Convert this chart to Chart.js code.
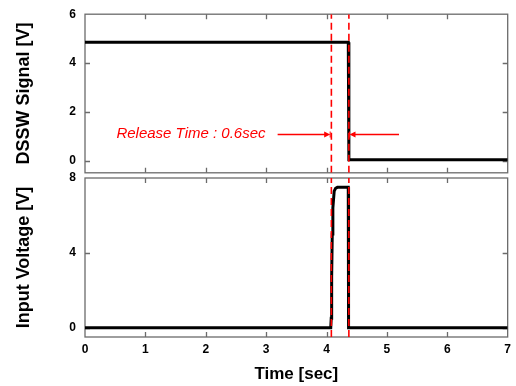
<!DOCTYPE html>
<html>
<head>
<meta charset="utf-8">
<script src="https://cdn.jsdelivr.net/npm/chart.js@4.4.1/dist/chart.umd.min.js"></script>
<style>
  body { margin: 0; background: #fff; }
  #wrap { position: relative; width: 516px; height: 386px; }
  #wrap div { position: absolute; left: 0; width: 516px; }
</style>
</head>
<body>
<div id="wrap">
  <!-- the y labels reserve 16.2px above/below the plot, hence the offset box -->
  <div style="top:-2px;height:191px"><canvas id="dssw"></canvas></div>
  <div style="top:160px;height:226px"><canvas id="input"></canvas></div>
</div>
<script>
// time axis [sec]
const timeTicks = [0, 1, 2, 3, 4, 5, 6, 7];

// DSSW signal [V]
const dsswTime = [0, 4.36, 4.37, 7];
const dsswVolt = [4.85, 4.85, 0.03, 0.03];
const dsswTicks = [0, 2, 4, 6];

// input voltage [V]
const inputTime = [0, 4.07, 4.078, 4.085, 4.095, 4.105, 4.127, 4.15, 4.18, 4.36, 4.365, 7];
const inputVolt = [0, 0, 0.5, 2.7, 5.0, 6.4, 7.3, 7.45, 7.5, 7.5, 0, 0];
const inputTicks = [0, 4, 8];

// red dashed markers + release note
const markerTimes = [4.08, 4.37];
const releaseText = 'Release Time : 0.6sec';
const releaseTextAt = [0.52, 0.94];
const releaseArrowY = 1.1;
const releaseArrows = [[3.19, 4.06], [5.2, 4.38]];

Chart.defaults.font.family = '"Liberation Sans", Arial, sans-serif';
Chart.defaults.color = '#000';

// box round the plot + inward ticks
const frameTicks = {
  id: 'frameTicks',
  beforeDatasetsDraw(chart) {
    const ctx = chart.ctx, a = chart.chartArea;
    const x = chart.scales.x, y = chart.scales.y;
    ctx.save();
    ctx.strokeStyle = '#6b6b6b';
    ctx.lineWidth = 1.3;
    ctx.strokeRect(a.left, a.top, a.right - a.left, a.bottom - a.top);
    ctx.beginPath();
    x.ticks.forEach(t => {
      if (t.value <= x.min || t.value >= x.max) return;
      const px = Math.round(x.getPixelForValue(t.value)) + 0.5;
      ctx.moveTo(px, a.top); ctx.lineTo(px, a.top + 5);
      ctx.moveTo(px, a.bottom); ctx.lineTo(px, a.bottom - 5);
    });
    y.ticks.forEach(t => {
      if (t.value <= y.min || t.value >= y.max) return;
      const py = Math.round(y.getPixelForValue(t.value)) + 0.5;
      ctx.moveTo(a.left, py); ctx.lineTo(a.left + 5, py);
      ctx.moveTo(a.right, py); ctx.lineTo(a.right - 5, py);
    });
    ctx.stroke();
    ctx.restore();
  }
};

const releaseNote = {
  id: 'releaseNote',
  afterDatasetsDraw(chart) {
    const ctx = chart.ctx, x = chart.scales.x, y = chart.scales.y;
    ctx.save();
    ctx.fillStyle = '#ff0000';
    ctx.strokeStyle = '#ff0000';
    ctx.font = 'italic 15px "Liberation Sans", Arial, sans-serif';
    ctx.textBaseline = 'alphabetic';
    ctx.fillText(releaseText, x.getPixelForValue(releaseTextAt[0]), y.getPixelForValue(releaseTextAt[1]));
    const py = Math.round(y.getPixelForValue(releaseArrowY)) + 0.5;
    releaseArrows.forEach(ar => {
      const x0 = x.getPixelForValue(ar[0]), x1 = x.getPixelForValue(ar[1]);
      const dir = Math.sign(x1 - x0);
      ctx.lineWidth = 1.5;
      ctx.beginPath();
      ctx.moveTo(x0, py); ctx.lineTo(x1 - dir * 3, py);
      ctx.stroke();
      ctx.beginPath();
      ctx.moveTo(x1, py); ctx.lineTo(x1 - dir * 6, py - 3); ctx.lineTo(x1 - dir * 6, py + 3);
      ctx.closePath();
      ctx.fill();
      ctx.lineWidth = 1;
      ctx.beginPath();
      ctx.moveTo(x1, py - 3); ctx.lineTo(x1, py + 3);
      ctx.stroke();
    });
    ctx.restore();
  }
};

function makePanel(canvasId, time, volt, yMin, yMax, yTicks, yTitle, showX, pad, plugins) {
  var datasets = markerTimes.map(t => ({
    data: [{x: t, y: yMin}, {x: t, y: yMax}],
    borderColor: '#ff0000',
    borderWidth: 1.6,
    borderDash: [7, 4],
    pointRadius: 0,
    order: 0
  }));
  datasets.push({
    data: time.map((t, i) => ({x: t, y: volt[i]})),
    borderColor: '#000',
    borderWidth: 3,
    pointRadius: 0,
    tension: 0,
    order: 1
  });

  return new Chart(document.getElementById(canvasId), {
    type: 'line',
    data: { datasets: datasets },
    options: {
      animation: false,
      responsive: true,
      maintainAspectRatio: false,
      layout: { padding: pad },
      plugins: {
        legend: { display: false },
        tooltip: { enabled: false }
      },
      scales: {
        x: {
          type: 'linear',
          display: showX,
          min: 0,
          max: 7,
          afterBuildTicks: s => { s.ticks = timeTicks.map(v => ({value: v})); },
          afterFit: s => { s.height = showX ? 49 : 0; },
          grid: { display: false, drawTicks: false },
          border: { display: false },
          ticks: { font: { size: 12, weight: 'bold' }, padding: 5 },
          title: {
            display: true,
            text: 'Time [sec]',
            font: { size: 17, weight: 'bold' },
            padding: { top: 0, bottom: 1 }
          }
        },
        y: {
          min: yMin,
          max: yMax,
          afterBuildTicks: s => { s.ticks = yTicks.map(v => ({value: v})); },
          afterFit: s => { s.width = 85; },
          grid: { display: false, drawTicks: false },
          border: { display: false },
          ticks: { font: { size: 12, weight: 'bold' }, padding: 9 },
          title: {
            display: true,
            text: yTitle,
            font: { size: 18, weight: 'bold' },
            padding: { top: 13, bottom: 0 }
          }
        }
      }
    },
    plugins: plugins
  });
}

makePanel('dssw', dsswTime, dsswVolt, -0.5, 6, dsswTicks, 'DSSW Signal [V]', false,
  {top: 0, right: 8.3, bottom: 0, left: 0}, [frameTicks, releaseNote]);
makePanel('input', inputTime, inputVolt, -0.5, 8, inputTicks, 'Input Voltage [V]', true,
  {top: 18, right: 7, bottom: 0, left: 0}, [frameTicks]);
</script>
</body>
</html>
